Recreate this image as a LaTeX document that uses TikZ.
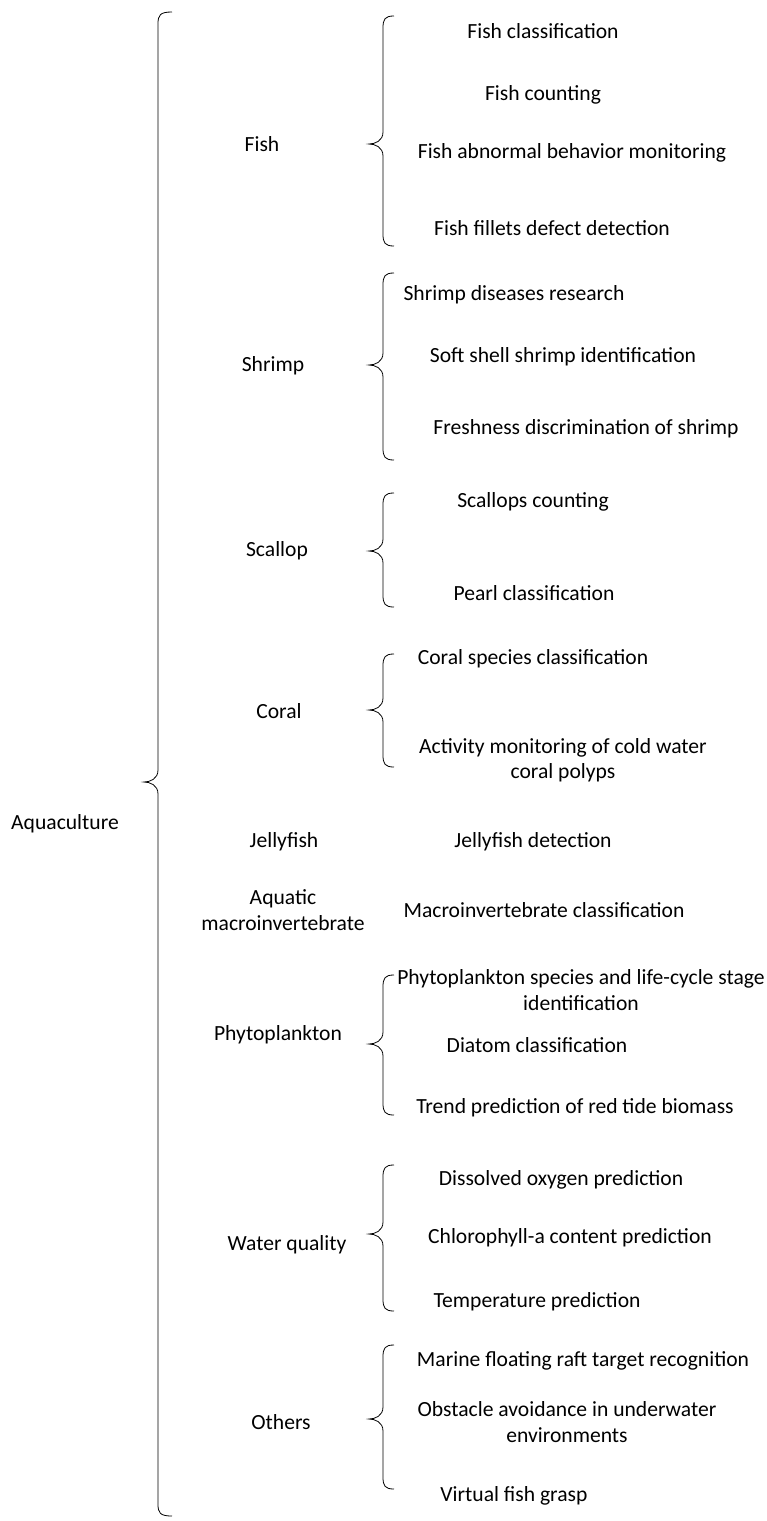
\documentclass[tikz,border=0pt]{standalone}
\usepackage{fontspec}
\setmainfont{Carlito}
\newcommand{\mybrace}[5]{% x, top, tip, bottom, hook width
  \draw[bracestyle] ({#1+#5},#2) .. controls ({#1+2},#2) and (#1,{#2+3}) .. (#1,{#2+12})
    -- (#1,{#3-12}) .. controls (#1,{#3-3}) and ({#1-8},#3) .. ({#1-14},#3)
    .. controls ({#1-8},#3) and (#1,{#3+3}) .. (#1,{#3+12})
    -- (#1,{#4-12}) .. controls (#1,{#4-3}) and ({#1+2},#4) .. ({#1+#5},#4);}
\tikzset{
  bracestyle/.style={line width=0.8pt, black},
  lbl/.style={inner sep=0pt, align=center, font=\fontsize{21.6}{25.5}\selectfont},
}
\begin{document}
\begin{tikzpicture}[x=1pt,y=-1pt]
\useasboundingbox (0,0) rectangle (767,1521);
% main brace
\mybrace{158}{12}{782}{1516}{14}
\node[lbl] (aqua) at (65,824) {Aquaculture};
% Fish
\mybrace{383}{16}{144}{246}{11}
\node[lbl] (fish) at (262,144) {Fish};
\node[lbl] (f1) at (543,31) {Fish classification};
\node[lbl] (f2) at (543,95) {Fish counting};
\node[lbl] (f3) at (572,153) {Fish abnormal behavior monitoring};
\node[lbl] (f4) at (552,228) {Fish fillets defect detection};
% Shrimp
\mybrace{383}{273}{365}{460}{11}
\node[lbl] (shrimp) at (273,366) {Shrimp};
\node[lbl] (s1) at (514,295) {Shrimp diseases research};
\node[lbl] (s2) at (563,357) {Soft shell shrimp identification};
\node[lbl] (s3) at (586,429) {Freshness discrimination of shrimp};
% Scallop
\mybrace{383}{493}{551}{607}{11}
\node[lbl] (scallop) at (277,551) {Scallop};
\node[lbl] (sc1) at (533,502) {Scallops counting};
\node[lbl] (sc2) at (534,593) {Pearl classification};
% Coral
\mybrace{383}{654}{710}{767}{11}
\node[lbl] (coral) at (279,711) {Coral};
\node[lbl] (c1) at (533,659) {Coral species classification};
\node[lbl] (c2) at (563,760) {Activity monitoring of cold water\\coral polyps};
% Jellyfish
\node[lbl] (jelly) at (284,842) {Jellyfish};
\node[lbl] (j1) at (533,842) {Jellyfish detection};
% Aquatic macroinvertebrate
\node[lbl] (macro) at (283,910) {Aquatic\\macroinvertebrate};
\node[lbl] (m1) at (544,910) {Macroinvertebrate classification};
% Phytoplankton
\mybrace{383}{975}{1044}{1115}{11}
\node[lbl] (phyto) at (278,1035) {Phytoplankton};
\node[lbl] (p1) at (581,990) {Phytoplankton species and life-cycle stage\\identification};
\node[lbl] (p2) at (537,1045) {Diatom classification};
\node[lbl] (p3) at (575,1108) {Trend prediction of red tide biomass};
% Water quality
\mybrace{383}{1165}{1234}{1311}{11}
\node[lbl] (wq) at (287,1245) {Water quality};
\node[lbl] (w1) at (561,1180) {Dissolved oxygen prediction};
\node[lbl] (w2) at (570,1238) {Chlorophyll-a content prediction};
\node[lbl] (w3) at (537,1302) {Temperature prediction};
% Others
\mybrace{383}{1345}{1419}{1489}{11}
\node[lbl] (oth) at (281,1422) {Others};
\node[lbl] (o1) at (583,1361) {Marine floating raft target recognition};
\node[lbl] (o2) at (567,1422) {Obstacle avoidance in underwater\\environments};
\node[lbl] (o3) at (514,1496) {Virtual fish grasp};
\end{tikzpicture}
\end{document}
